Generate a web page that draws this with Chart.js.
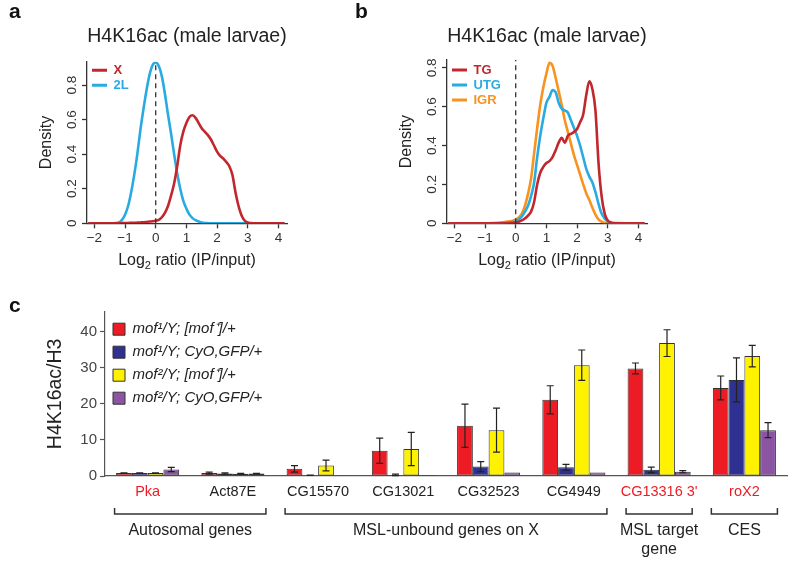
<!DOCTYPE html>
<html>
<head>
<meta charset="utf-8">
<script src="https://cdn.jsdelivr.net/npm/chart.js@4.4.1/dist/chart.umd.min.js"></script>
<style>
  html, body { margin: 0; padding: 0; background: #fff; }
  #page { position: relative; width: 800px; height: 569px; overflow: hidden; }
  canvas { position: absolute; }
  .tag { position: absolute; font: bold 21px "Liberation Sans", Arial, sans-serif; line-height: 21px; color: #111; z-index: 2; }
</style>
</head>
<body>
<div id="page">
  <canvas id="chartA" width="360" height="280" style="left:0;top:0"></canvas>
  <canvas id="chartB" width="360" height="280" style="left:360px;top:0"></canvas>
  <canvas id="chartC" width="800" height="279" style="left:0;top:290px"></canvas>
  <div class="tag" style="left:9px;top:0">a</div>
  <div class="tag" style="left:355px;top:0">b</div>
  <div class="tag" style="left:9px;top:294px">c</div>
</div>
<script>
// ---- panel a: density of log2 ratio, X vs 2L ----
const aLog2 = [
  -2.2, -1.4,
  -1.2, -1.1, -1.0, -0.9, -0.8, -0.7, -0.6, -0.5, -0.4, -0.3,
  -0.2, -0.1, 0.0, 0.1, 0.2, 0.3, 0.4, 0.5, 0.6, 0.7,
  0.8, 0.9, 1.0, 1.1, 1.2, 1.3, 1.4, 1.5, 1.6, 1.7,
  1.8, 1.9, 2.0, 2.1, 2.2, 2.3, 2.4, 2.5, 2.6, 2.7,
  2.8, 2.9, 3.0, 3.1,
  3.3, 4.2
];
const densX = [
  0, 0,
  0, 0.001, 0.002, 0.002, 0.003, 0.003, 0.004, 0.005, 0.006, 0.008,
  0.010, 0.012, 0.015, 0.020, 0.035, 0.060, 0.100, 0.160, 0.230, 0.330,
  0.450, 0.530, 0.580, 0.615, 0.625, 0.610, 0.580, 0.550, 0.530, 0.510,
  0.485, 0.450, 0.415, 0.390, 0.375, 0.355, 0.330, 0.280, 0.180, 0.100,
  0.045, 0.015, 0.005, 0.001,
  0, 0
];
const dens2L = [
  0, 0,
  0.005, 0.020, 0.050, 0.100, 0.180, 0.280, 0.400, 0.540, 0.660, 0.770,
  0.860, 0.915, 0.930, 0.910, 0.850, 0.750, 0.630, 0.520, 0.400, 0.290,
  0.200, 0.130, 0.085, 0.050, 0.030, 0.018, 0.010, 0.005, 0.002, 0.001,
  0, 0, 0, 0, 0, 0, 0, 0, 0, 0,
  0, 0, 0, 0,
  0, 0
];

// ---- panel b: density of log2 ratio, TG / UTG / IGR ----
const bLog2 = [
  -2.2, -1.0, -0.8, -0.6, -0.4, -0.2,
  -0.1, 0.0, 0.1, 0.2, 0.3, 0.4, 0.5, 0.6, 0.7, 0.8,
  0.9, 1.0, 1.1, 1.2, 1.3, 1.4, 1.5, 1.6, 1.7, 1.8,
  1.9, 2.0, 2.1, 2.2, 2.3, 2.4, 2.5, 2.6, 2.7, 2.8,
  2.9, 3.0, 3.1, 3.2,
  4.2
];
const densTG = [
  0, 0, 0, 0, 0, 0.001,
  0.002, 0.004, 0.008, 0.015, 0.025, 0.040, 0.060, 0.110, 0.200, 0.260,
  0.290, 0.310, 0.320, 0.340, 0.375, 0.415, 0.440, 0.415, 0.450, 0.460,
  0.470, 0.485, 0.520, 0.560, 0.660, 0.730, 0.690, 0.580, 0.310, 0.140,
  0.050, 0.015, 0.004, 0.001,
  0
];
const densUTG = [
  0, 0, 0, 0, 0.002, 0.004,
  0.006, 0.010, 0.020, 0.035, 0.060, 0.090, 0.140, 0.210, 0.340, 0.450,
  0.540, 0.620, 0.650, 0.685, 0.675, 0.620, 0.590, 0.580, 0.570, 0.530,
  0.490, 0.450, 0.400, 0.340, 0.280, 0.240, 0.210, 0.160, 0.100, 0.050,
  0.025, 0.008, 0.002, 0,
  0
];
const densIGR = [
  0, 0, 0.001, 0.002, 0.005, 0.010,
  0.013, 0.020, 0.030, 0.050, 0.090, 0.150, 0.230, 0.360, 0.490, 0.610,
  0.700, 0.770, 0.825, 0.810, 0.750, 0.680, 0.610, 0.530, 0.470, 0.410,
  0.350, 0.300, 0.250, 0.200, 0.155, 0.120, 0.080, 0.045, 0.020, 0.008,
  0.002, 0, 0, 0,
  0
];
const log2Ticks = [-2, -1, 0, 1, 2, 3, 4];
const densityTicks = [0, 0.2, 0.4, 0.6, 0.8];

// ---- panel c: H4K16ac/H3 ChIP-qPCR ----
const genes = ['Pka', 'Act87E', 'CG15570', 'CG13021', 'CG32523', 'CG4949', "CG13316 3'", 'roX2'];
const redGenes = ['Pka', "CG13316 3'", 'roX2'];
const genotypes = ['mof\u00b9/Y; [mof\u207a]/+', 'mof\u00b9/Y; CyO,GFP/+', 'mof\u00b2/Y; [mof\u207a]/+', 'mof\u00b2/Y; CyO,GFP/+'];
const mof1Rescue = [0.8, 0.8, 2.0, 7.0, 13.9, 21.1, 29.8, 24.4];
const mof1Rescue_err = [0.1, 0.3, 0.9, 3.5, 6.0, 3.9, 1.5, 3.3];
const mof1CyO = [0.8, 0.7, 0.2, 0.3, 2.6, 2.4, 1.7, 26.6];
const mof1CyO_err = [0.1, 0.2, 0.05, 0.2, 1.4, 0.8, 0.75, 6.1];
const mof2Rescue = [0.8, 0.6, 2.9, 7.5, 12.7, 30.7, 36.8, 33.2];
const mof2Rescue_err = [0.05, 0.1, 1.5, 4.6, 6.1, 4.2, 3.7, 3.0];
const mof2CyO = [1.8, 0.7, 0.2, 0.3, 1.0, 1.0, 1.2, 12.7];
const mof2CyO_err = [0.6, 0.05, 0, 0, 0, 0, 0.3, 2.1];
const geneGroups = [
  { label: ['Autosomal genes'], first: 0, last: 1 },
  { label: ['MSL-unbound genes on X'], first: 2, last: 5 },
  { label: ['MSL target', 'gene'], first: 6, last: 6 },
  { label: ['CES'], first: 7, last: 7 }
];

const FONT = '"Liberation Sans", Arial, sans-serif';
const AXIS = '#333';
const RED_LINE = '#c1272d', BLUE_LINE = '#29abe2', ORANGE_LINE = '#f7931e';

// a 'chartArea' legend keeps top = 0 in vertical mode, so pin it to the plot area
const legendInArea = {
  id: 'legendInArea',
  afterLayout(chart, args, opts) {
    const lg = chart.legend;
    if (!lg) return;
    const a = chart.chartArea;
    lg.left = a.left + (opts.dx || 0);
    lg.top = a.top + (opts.dy || 0);
    lg.bottom = a.bottom;
  }
};

// title, x-axis title with subscript and the dashed line at zero
const densityDecor = {
  id: 'densityDecor',
  afterDatasetsDraw(chart, args, opts) {
    const { ctx, chartArea, scales: { x, y } } = chart;
    const px = x.getPixelForValue(opts.refLine);
    ctx.save();
    ctx.strokeStyle = '#333';
    ctx.lineWidth = 1.3;
    ctx.setLineDash([5, 4]);
    ctx.beginPath();
    ctx.moveTo(px, y.getPixelForValue(0));
    ctx.lineTo(px, chartArea.top);
    ctx.stroke();
    ctx.restore();
  },
  afterDraw(chart, args, opts) {
    const { ctx, chartArea } = chart;
    const cx = (chartArea.left + chartArea.right) / 2;
    ctx.save();
    ctx.fillStyle = '#222';
    ctx.textBaseline = 'alphabetic';
    ctx.textAlign = 'center';
    ctx.font = '19.5px ' + FONT;
    ctx.fillText(opts.title, cx, opts.titleY);

    ctx.textAlign = 'left';
    const big = '16px ' + FONT, small = '11px ' + FONT;
    ctx.font = big;
    const w1 = ctx.measureText('Log').width;
    const w3 = ctx.measureText(' ratio (IP/input)').width;
    ctx.font = small;
    const w2 = ctx.measureText('2').width;
    let x0 = cx - (w1 + w2 + w3) / 2;
    const base = chartArea.bottom + 42;
    ctx.font = big;
    ctx.fillText('Log', x0, base);
    ctx.font = small;
    ctx.fillText('2', x0 + w1, base + 4);
    ctx.font = big;
    ctx.fillText(' ratio (IP/input)', x0 + w1 + w2, base);
    ctx.restore();
  }
};

function lineLegendLabels(chart) {
  const items = Chart.defaults.plugins.legend.labels.generateLabels(chart);
  return items.map(it => Object.assign(it, { fillStyle: it.strokeStyle, lineWidth: 0, fontColor: it.strokeStyle }));
}

function densityChart(id, datasets, yMax, padTop, legendDy, title) {
  return new Chart(document.getElementById(id), {
    type: 'line',
    data: { datasets },
    plugins: [densityDecor, legendInArea],
    options: {
      responsive: false,
      animation: false,
      layout: { padding: { top: padTop, left: 37, right: 73, bottom: 16.7 } },
      elements: { point: { radius: 0 }, line: { borderWidth: 2.6, cubicInterpolationMode: 'monotone' } },
      scales: {
        x: {
          type: 'linear', min: -2.24, max: 4.28,
          afterFit: s => { s.height = 40; },
          afterBuildTicks: s => { s.ticks = log2Ticks.map(v => ({ value: v })); },
          grid: { display: true, drawOnChartArea: false, drawTicks: true, tickLength: 5, tickColor: AXIS, tickWidth: 1.3 },
          border: { display: true, color: AXIS, width: 1.3 },
          ticks: { color: '#333', padding: 2, font: { family: FONT, size: 13.5 },
                   callback: v => String(v).replace('-', '\u2212') }
        },
        y: {
          type: 'linear', min: 0, max: yMax,
          afterFit: s => { s.width = 50; },
          afterBuildTicks: s => { s.ticks = densityTicks.map(v => ({ value: v })); },
          grid: { display: true, drawOnChartArea: false, drawTicks: true, tickLength: 5, tickColor: AXIS, tickWidth: 1.3 },
          border: { display: true, color: AXIS, width: 1.3 },
          title: { display: true, text: 'Density', color: '#222', padding: 0, font: { family: FONT, size: 16 } },
          ticks: { color: '#333', padding: 0, minRotation: 90, maxRotation: 90, crossAlign: 'center',
                   font: { family: FONT, size: 13.5 }, callback: v => String(v) }
        }
      },
      plugins: {
        tooltip: { enabled: false },
        densityDecor: { refLine: 0, title: title, titleY: 42 },
        legendInArea: { dx: 3, dy: legendDy },
        legend: {
          position: 'chartArea', align: 'start',
          labels: { boxWidth: 15, boxHeight: 3, padding: 2, font: { family: FONT, size: 13, weight: 'bold' },
                    generateLabels: lineLegendLabels }
        }
      }
    }
  });
}

const pts = (xs, ys) => xs.map((v, i) => ({ x: v, y: ys[i] }));

densityChart('chartA', [
  { label: 'X', data: pts(aLog2, densX), borderColor: RED_LINE, backgroundColor: RED_LINE },
  { label: '2L', data: pts(aLog2, dens2L), borderColor: BLUE_LINE, backgroundColor: BLUE_LINE }
], 0.935, 61.7, 0, 'H4K16ac (male larvae)');

densityChart('chartB', [
  { label: 'TG', data: pts(bLog2, densTG), borderColor: RED_LINE, backgroundColor: RED_LINE },
  { label: 'UTG', data: pts(bLog2, densUTG), borderColor: BLUE_LINE, backgroundColor: BLUE_LINE },
  { label: 'IGR', data: pts(bLog2, densIGR), borderColor: ORANGE_LINE, backgroundColor: ORANGE_LINE }
], 0.84, 60, 1.5, 'H4K16ac (male larvae)');

// ---- panel c ----
const errorBars = {
  id: 'errorBars',
  afterDatasetsDraw(chart, args, opts) {
    const { ctx, scales: { y } } = chart;
    ctx.save();
    ctx.strokeStyle = '#222';
    ctx.lineWidth = 1.2;
    chart.data.datasets.forEach((ds, i) => {
      chart.getDatasetMeta(i).data.forEach((bar, j) => {
        const e = ds.errors[j];
        if (!e) return;
        const v = ds.data[j];
        const top = y.getPixelForValue(v + e), bot = y.getPixelForValue(v - e);
        ctx.beginPath();
        ctx.moveTo(bar.x, top); ctx.lineTo(bar.x, bot);
        ctx.moveTo(bar.x - 3.5, top); ctx.lineTo(bar.x + 3.5, top);
        ctx.moveTo(bar.x - 3.5, bot); ctx.lineTo(bar.x + 3.5, bot);
        ctx.stroke();
      });
    });
    ctx.restore();
  }
};

const groupBrackets = {
  id: 'groupBrackets',
  afterDraw(chart, args, opts) {
    const { ctx, chartArea } = chart;
    const firstMeta = chart.getDatasetMeta(0);
    const lastMeta = chart.getDatasetMeta(chart.data.datasets.length - 1);
    const yLine = chartArea.bottom + 38;
    ctx.save();
    ctx.strokeStyle = '#333';
    ctx.lineWidth = 1.5;
    ctx.fillStyle = '#222';
    ctx.font = '16px ' + FONT;
    ctx.textAlign = 'center';
    ctx.textBaseline = 'middle';
    opts.groups.forEach(g => {
      const b0 = firstMeta.data[g.first], b1 = lastMeta.data[g.last];
      const x0 = b0.x - b0.width / 2 - 1.5, x1 = b1.x + b1.width / 2 + 1.5;
      ctx.beginPath();
      ctx.moveTo(x0, yLine - 6); ctx.lineTo(x0, yLine); ctx.lineTo(x1, yLine); ctx.lineTo(x1, yLine - 6);
      ctx.stroke();
      g.label.forEach((t, k) => ctx.fillText(t, (x0 + x1) / 2, chartArea.bottom + 55 + k * 19));
    });
    ctx.restore();
  }
};

new Chart(document.getElementById('chartC'), {
  type: 'bar',
  data: {
    labels: genes,
    datasets: [
      { label: genotypes[0], data: mof1Rescue, errors: mof1Rescue_err, backgroundColor: '#ed1c24' },
      { label: genotypes[1], data: mof1CyO, errors: mof1CyO_err, backgroundColor: '#2e3192' },
      { label: genotypes[2], data: mof2Rescue, errors: mof2Rescue_err, backgroundColor: '#fff200' },
      { label: genotypes[3], data: mof2CyO, errors: mof2CyO_err, backgroundColor: '#8c55a3' }
    ]
  },
  plugins: [errorBars, groupBrackets, legendInArea],
  options: {
    responsive: false,
    animation: false,
    layout: { padding: { top: 21.7, left: 44.3, right: 13, bottom: 0 } },
    datasets: { bar: { categoryPercentage: 0.74, barPercentage: 1.0, borderColor: '#333', borderWidth: 1, borderSkipped: false } },
    scales: {
      x: {
        afterFit: s => { s.height = 93; },
        grid: { display: false, drawTicks: false, tickLength: 0 },
        border: { display: true, color: '#555', width: 1.2 },
        ticks: { padding: 7, maxRotation: 0, autoSkip: false, font: { family: FONT, size: 14.5 },
                 color: c => redGenes.includes(genes[c.index]) ? '#ed1c24' : '#222' }
      },
      y: {
        min: 0, max: 45.5,
        afterFit: s => { s.width = 60.7; },
        afterBuildTicks: s => { s.ticks = s.ticks.filter(t => t.value % 10 === 0); },
        grid: { display: true, drawOnChartArea: false, drawTicks: true, tickLength: 5, tickColor: '#555', tickWidth: 1.2 },
        border: { display: true, color: '#555', width: 1.2 },
        title: { display: true, text: 'H4K16ac/H3', color: '#222', padding: 0, font: { family: FONT, size: 19.5 } },
        ticks: { stepSize: 10, padding: 3, color: '#444', font: { family: FONT, size: 15 } }
      }
    },
    plugins: {
      tooltip: { enabled: false },
      groupBrackets: { groups: geneGroups },
      legendInArea: { dx: 0, dy: 2 },
      legend: {
        position: 'chartArea', align: 'start',
        labels: { boxWidth: 12, boxHeight: 12, padding: 8, color: '#222',
                  font: { family: FONT, size: 15, style: 'italic' } }
      }
    }
  }
});
</script>
</body>
</html>
